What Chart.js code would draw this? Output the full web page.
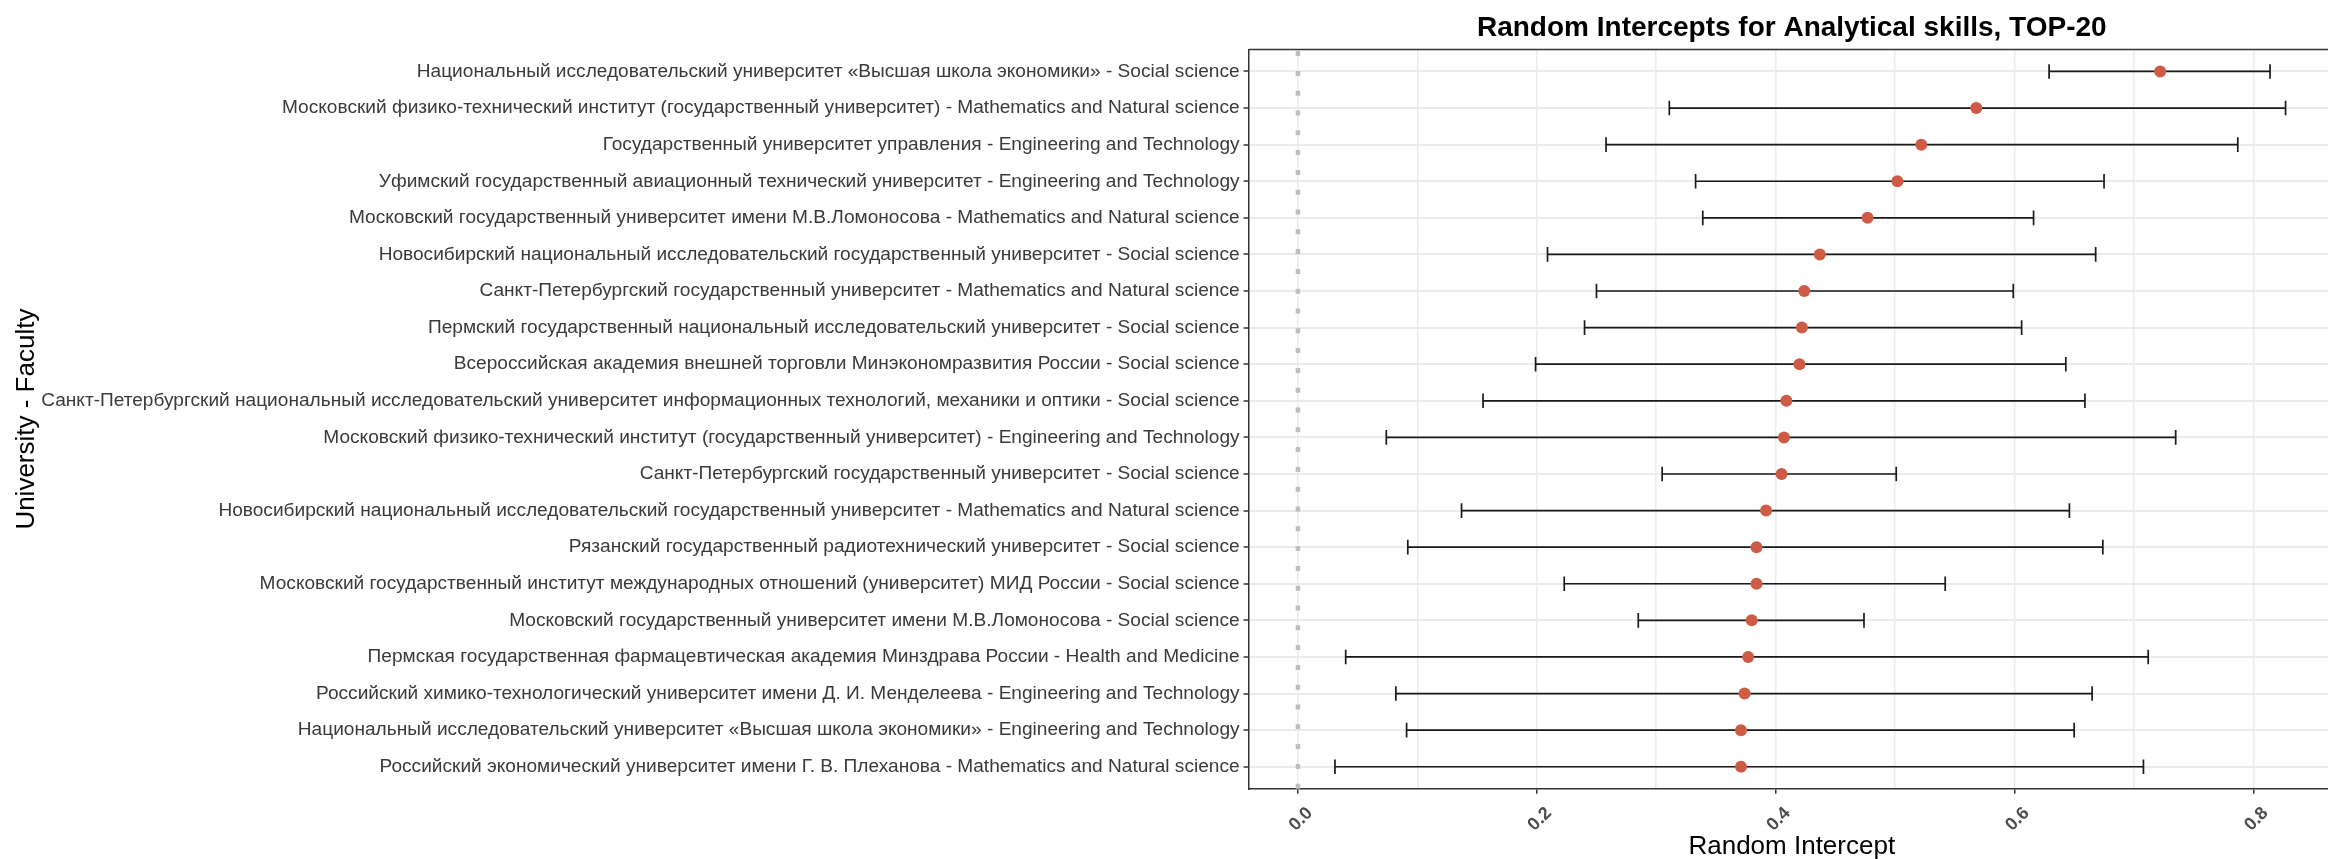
<!DOCTYPE html>
<html lang="ru">
<head>
  <meta charset="UTF-8">
  <title>Random Intercepts for Analytical skills, TOP-20</title>
  <script src="https://cdn.jsdelivr.net/npm/chart.js@4"></script>
  <style>
    html, body {
      margin: 0;
      padding: 0;
      background: #ffffff;
      overflow: hidden;
    }
    #wrap {
      width: 2341px;
      height: 859px;
    }
  </style>
</head>
<body>

<div id="wrap"><canvas id="chartRI" width="2341" height="859"></canvas></div>

<script>
  // University - Faculty, top to bottom
  const categories = [
    'Национальный исследовательский университет «Высшая школа экономики» - Social science',
    'Московский физико-технический институт (государственный университет) - Mathematics and Natural science',
    'Государственный университет управления - Engineering and Technology',
    'Уфимский государственный авиационный технический университет - Engineering and Technology',
    'Московский государственный университет имени М.В.Ломоносова - Mathematics and Natural science',
    'Новосибирский национальный исследовательский государственный университет - Social science',
    'Санкт-Петербургский государственный университет - Mathematics and Natural science',
    'Пермский государственный национальный исследовательский университет - Social science',
    'Всероссийская академия внешней торговли Минэкономразвития России - Social science',
    'Санкт-Петербургский национальный исследовательский университет информационных технологий, механики и оптики - Social science',
    'Московский физико-технический институт (государственный университет) - Engineering and Technology',
    'Санкт-Петербургский государственный университет - Social science',
    'Новосибирский национальный исследовательский государственный университет - Mathematics and Natural science',
    'Рязанский государственный радиотехнический университет - Social science',
    'Московский государственный институт международных отношений (университет) МИД России - Social science',
    'Московский государственный университет имени М.В.Ломоносова - Social science',
    'Пермская государственная фармацевтическая академия Минздрава России - Health and Medicine',
    'Российский химико-технологический университет имени Д. И. Менделеева - Engineering and Technology',
    'Национальный исследовательский университет «Высшая школа экономики» - Engineering and Technology',
    'Российский экономический университет имени Г. В. Плеханова - Mathematics and Natural science'
  ];

  const estimate = [0.722, 0.568, 0.522, 0.502, 0.477, 0.437, 0.424, 0.422, 0.420, 0.409,
                    0.407, 0.405, 0.392, 0.384, 0.384, 0.380, 0.377, 0.374, 0.371, 0.371];
  const lowerCI  = [0.629, 0.311, 0.258, 0.333, 0.339, 0.209, 0.250, 0.240, 0.199, 0.155,
                    0.074, 0.305, 0.137, 0.092, 0.223, 0.285, 0.040, 0.082, 0.091, 0.031];
  const upperCI  = [0.814, 0.827, 0.787, 0.675, 0.616, 0.668, 0.599, 0.606, 0.643, 0.659,
                    0.735, 0.501, 0.646, 0.674, 0.542, 0.474, 0.712, 0.665, 0.650, 0.708];

  // x grid: majors carry labels, minors only a line
  const xTicks      = [0, 0.1, 0.2, 0.3, 0.4, 0.5, 0.6, 0.7, 0.8];
  const xTickLabels = ['0.0', '', '0.2', '', '0.4', '', '0.6', '', '0.8'];

  const FONT = '"Liberation Sans", Arial, sans-serif';
  Chart.defaults.font.family = FONT;

  // vline at 0, error bars, top border of the panel, title
  const extras = {
    id: 'extras',
    beforeDatasetsDraw(chart) {
      const { ctx, chartArea: a, scales: { x, y } } = chart;
      ctx.save();

      ctx.strokeStyle = '#333333';
      ctx.lineWidth = 1.5;
      ctx.beginPath();
      ctx.moveTo(a.left, a.top);
      ctx.lineTo(a.right, a.top);
      ctx.stroke();

      const x0 = x.getPixelForValue(0);
      ctx.strokeStyle = '#BEBEBE';
      ctx.lineWidth = 4.5;
      ctx.setLineDash([5, 14.8]);
      ctx.beginPath();
      ctx.moveTo(x0, a.bottom);
      ctx.lineTo(x0, a.top);
      ctx.stroke();
      ctx.setLineDash([]);

      ctx.strokeStyle = '#1a1a1a';
      ctx.lineWidth = 1.7;
      categories.forEach((c, i) => {
        const yc = y.getPixelForValue(i + 1);
        const y1 = y.getPixelForValue(i + 1 - 0.2);
        const y2 = y.getPixelForValue(i + 1 + 0.2);
        const xl = x.getPixelForValue(lowerCI[i]);
        const xh = x.getPixelForValue(upperCI[i]);
        ctx.beginPath();
        ctx.moveTo(xl, yc); ctx.lineTo(xh, yc);
        ctx.moveTo(xl, y1); ctx.lineTo(xl, y2);
        ctx.moveTo(xh, y1); ctx.lineTo(xh, y2);
        ctx.stroke();
      });
      ctx.restore();
    },
    afterDraw(chart) {
      const { ctx, chartArea: a } = chart;
      ctx.save();
      ctx.font = 'bold 28px ' + FONT;
      ctx.fillStyle = '#000000';
      ctx.textAlign = 'center';
      ctx.textBaseline = 'alphabetic';
      ctx.fillText('Random Intercepts for Analytical skills, TOP-20', (a.left + a.right) / 2, 36);
      ctx.restore();
    }
  };

  new Chart(document.getElementById('chartRI'), {
    type: 'scatter',
    data: {
      datasets: [{
        data: estimate.map((v, i) => ({ x: v, y: i + 1 })),
        backgroundColor: '#CD5B45',
        borderWidth: 0,
        pointRadius: 6,
        pointHoverRadius: 6
      }]
    },
    options: {
      responsive: false,
      animation: false,
      events: [],
      layout: { padding: { top: 49.5, left: 0, right: 0, bottom: 0 } },
      plugins: {
        legend: { display: false },
        tooltip: { enabled: false }
      },
      scales: {
        x: {
          type: 'linear',
          min: -0.0413,
          max: 0.8684,
          afterBuildTicks: s => { s.ticks = xTicks.map(v => ({ value: v })); },
          afterFit: s => { s.height = 70.3; },
          border: { display: true, color: '#333333', width: 1.5 },
          grid: {
            color: '#EBEBEB',
            lineWidth: 1.5,
            tickLength: 5,
            tickWidth: 1.5,
            tickColor: c => (xTickLabels[c.index] ? '#333333' : 'rgba(0,0,0,0)')
          },
          ticks: {
            autoSkip: false,
            minRotation: 45,
            maxRotation: 45,
            labelOffset: 12,
            padding: 9,
            color: '#4D4D4D',
            font: { size: 18, weight: 'bold' },
            callback: (v, i) => xTickLabels[i]
          },
          title: {
            display: true,
            text: 'Random Intercept',
            color: '#000000',
            font: { size: 26 },
            padding: { top: 0, bottom: -3 }
          }
        },
        y: {
          type: 'linear',
          reverse: true,
          min: 0.4,
          max: 20.6,
          afterBuildTicks: s => { s.ticks = categories.map((c, i) => ({ value: i + 1 })); },
          afterFit: s => { s.width = 1248.6; },
          border: { display: true, color: '#333333', width: 1.5 },
          grid: {
            color: '#EBEBEB',
            lineWidth: 2,
            tickLength: 5,
            tickWidth: 1.5,
            tickColor: '#333333'
          },
          ticks: {
            autoSkip: false,
            padding: 4,
            color: '#3a3a3a',
            font: { size: 19.1 },
            callback: v => categories[v - 1]
          },
          title: {
            display: true,
            text: 'University - Faculty',
            color: '#000000',
            font: { size: 26 },
            padding: { top: 11, bottom: 0 }
          }
        }
      }
    },
    plugins: [extras]
  });
</script>

</body>
</html>
